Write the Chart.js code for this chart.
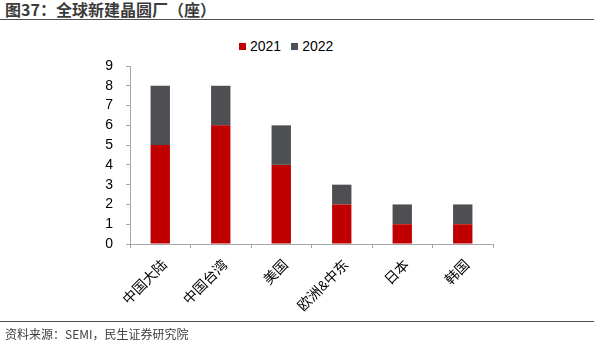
<!DOCTYPE html>
<html>
<head>
<meta charset="utf-8">
<script src="https://cdn.jsdelivr.net/npm/chart.js@4.4.0/dist/chart.umd.min.js"></script>
<style>
  html, body { margin: 0; padding: 0; background: #fff; }
  body { width: 594px; height: 350px; position: relative; overflow: hidden;
         font-family: "Liberation Sans", "Noto Sans CJK SC", sans-serif; }
  #title { position: absolute; left: 5px; top: 0px; font-size: 16px; font-weight: bold;
           color: #3c3c3c; line-height: 19px; font-family: "Noto Sans CJK SC", sans-serif; letter-spacing: 0px; }
  #topline { position: absolute; left: 0; top: 19px; width: 594px; height: 0; border-top: 1.5px solid #505050; }
  #bottomline { position: absolute; left: 0; top: 321px; width: 594px; height: 0; border-top: 1.5px solid #505050; }
  #source { position: absolute; left: 5px; top: 326px; font-size: 12px; color: #404040;
            font-family: "Noto Sans CJK SC", sans-serif; line-height: 16px; }
  #legend { position: absolute; top: 38px; left: 239px; font-size: 14px; color: #000; display: flex; align-items: center; }
  #legend span.box { display: inline-block; width: 7px; height: 7px; margin-right: 4px; }
  #legend span.item { display: inline-flex; align-items: center; margin-right: 10px; }
  #wrap { position: absolute; left: 0; top: 0; width: 594px; height: 322px; }
</style>
</head>
<body>
<div id="title">图37：全球新建晶圆厂（座）</div>
<div id="topline"></div>
<div id="legend"></div>
<div id="wrap"><canvas id="chart"></canvas></div>
<div id="bottomline"></div>
<div id="source">资料来源：SEMI，民生证券研究院</div>
<script>
const categories = ['中国大陆', '中国台湾', '美国', '欧洲&中东', '日本', '韩国'];
const seriesNames = ['2021', '2022'];
const values2021 = [5, 6, 4, 2, 1, 1];
const values2022 = [3, 2, 2, 1, 1, 1];
const seriesColors = ['#c00000', '#4d4f52'];
const yTicks = [0, 1, 2, 3, 4, 5, 6, 7, 8, 9];

const legend = document.getElementById('legend');
seriesNames.forEach((name, i) => {
    const item = document.createElement('span');
    item.className = 'item';
    item.innerHTML = `<span class="box" style="background:${seriesColors[i]}"></span>${name}`;
    legend.appendChild(item);
});

const axisColor = '#a6a6a6';
const font = { family: '"Liberation Sans", "Noto Sans CJK SC", sans-serif', size: 14 };

new Chart(document.getElementById('chart'), {
    type: 'bar',
    data: {
        labels: categories,
        datasets: [values2021, values2022].map((vals, i) => ({
            label: seriesNames[i],
            data: vals,
            backgroundColor: seriesColors[i],
            borderWidth: 0,
            categoryPercentage: 1,
            barPercentage: 0.32
        }))
    },
    options: {
        responsive: true,
        maintainAspectRatio: false,
        animation: false,
        layout: { padding: { top: 66, left: 0, right: 101, bottom: 0 } },
        plugins: { legend: { display: false }, tooltip: { enabled: false } },
        scales: {
            x: {
                stacked: true,
                border: { color: axisColor, width: 1 },
                grid: { drawOnChartArea: false, drawTicks: true, tickLength: 4, color: axisColor },
                ticks: { font: font, color: '#000', minRotation: 45, maxRotation: 45, padding: 9,
                         labelOffset: 5, autoSkip: false },
                afterFit: (scale) => { scale.height = 78; }
            },
            y: {
                stacked: true,
                min: 0,
                max: 9,
                border: { color: axisColor, width: 1 },
                grid: { drawOnChartArea: false, drawTicks: true, tickLength: 4, color: axisColor },
                afterBuildTicks: (scale) => { scale.ticks = yTicks.map(v => ({ value: v })); },
                ticks: { font: font, color: '#000', padding: 13, autoSkip: false },
                afterFit: (scale) => { scale.width = 130; }
            }
        }
    }
});
</script>
</body>
</html>
